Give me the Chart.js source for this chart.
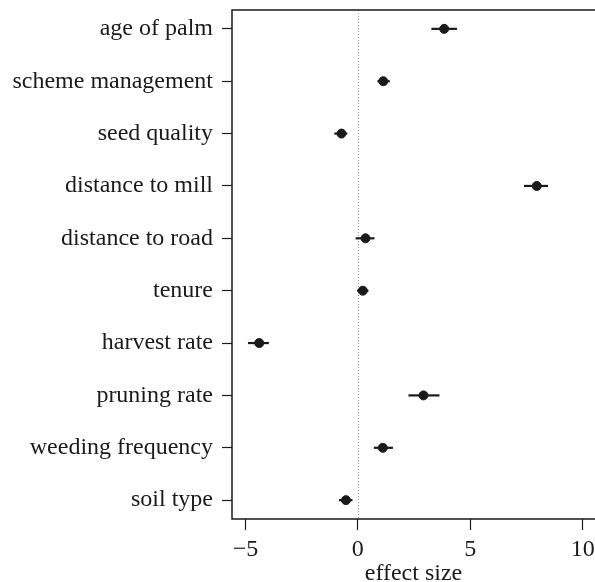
<!DOCTYPE html>
<html>
<head>
<meta charset="utf-8">
<script src="https://cdn.jsdelivr.net/npm/chart.js@4/dist/chart.umd.min.js"></script>
<style>
  html, body { margin: 0; padding: 0; background: #fff; }
  #wrap { width: 595px; height: 582px; }
</style>
</head>
<body>
<div id="wrap"><canvas id="effectChart"></canvas></div>
<script>
// datos del gráfico
const factors = ['age of palm', 'scheme management', 'seed quality', 'distance to mill',
  'distance to road', 'tenure', 'harvest rate', 'pruning rate', 'weeding frequency', 'soil type'];
const estimates = [3.84, 1.13, -0.73, 7.96, 0.34, 0.22, -4.39, 2.92, 1.11, -0.53];
const lower = [3.27, 0.87, -1.05, 7.39, -0.10, -0.04, -4.89, 2.25, 0.71, -0.84];
const upper = [4.41, 1.42, -0.47, 8.46, 0.74, 0.47, -3.96, 3.63, 1.56, -0.24];
const xTicks = [-5, 0, 5, 10];

const serif = '"Liberation Serif", "DejaVu Serif", serif';
const ink = '#1a1a1a';

/**
 * Dibuja la caja, la línea de cero y las barras de error
 */
const whiskers = {
  id: 'whiskers',
  beforeDatasetsDraw(chart) {
    const { ctx, chartArea: a, scales: { x, y } } = chart;
    ctx.save();
    // línea punteada en cero
    ctx.strokeStyle = '#999';
    ctx.lineWidth = 1;
    ctx.setLineDash([1, 2]);
    const x0 = Math.round(x.getPixelForValue(0)) + 0.5;
    ctx.beginPath();
    ctx.moveTo(x0, a.top);
    ctx.lineTo(x0, a.bottom);
    ctx.stroke();
    ctx.setLineDash([]);
    // intervalos
    ctx.strokeStyle = ink;
    ctx.lineWidth = 2.2;
    factors.forEach((f, i) => {
      const py = y.getPixelForValue(i);
      ctx.beginPath();
      ctx.moveTo(x.getPixelForValue(lower[i]), py);
      ctx.lineTo(x.getPixelForValue(upper[i]), py);
      ctx.stroke();
    });
    // caja
    ctx.lineWidth = 1.5;
    ctx.strokeRect(a.left, a.top, a.right - a.left + 5, a.bottom - a.top);
    ctx.restore();
  }
};

new Chart(document.getElementById('effectChart'), {
  type: 'scatter',
  data: {
    datasets: [{
      data: estimates.map((v, i) => ({ x: v, y: i })),
      backgroundColor: ink,
      borderColor: ink,
      pointRadius: 4.5,
      pointHoverRadius: 4.5
    }]
  },
  options: {
    responsive: true,
    maintainAspectRatio: false,
    animation: false,
    layout: { autoPadding: false, padding: { top: 10, right: 0, bottom: 0, left: 0 } },
    plugins: { legend: { display: false }, tooltip: { enabled: false } },
    scales: {
      x: {
        type: 'linear',
        min: -5.6,
        max: 10.55,
        afterBuildTicks: s => { s.ticks = xTicks.map(v => ({ value: v })); },
        afterFit: s => { s.height = 63; s.paddingLeft = 0; s.paddingRight = 0; },
        grid: { drawOnChartArea: false, tickLength: 11, tickColor: ink, tickWidth: 1.2 },
        border: { display: false },
        ticks: {
          color: ink,
          font: { family: serif, size: 24 },
          padding: 5,
          maxRotation: 0,
          callback: v => String(v).replace('-', '\u2212')
        },
        title: {
          display: true,
          text: 'effect size',
          color: ink,
          font: { family: serif, size: 24 },
          padding: { top: 0, bottom: -6.5 }
        }
      },
      y: {
        type: 'linear',
        reverse: true,
        min: -0.36,
        max: 9.36,
        afterBuildTicks: s => { s.ticks = factors.map((f, i) => ({ value: i })); },
        afterFit: s => { s.width = 232; s.paddingTop = 0; s.paddingBottom = 0; },
        grid: { drawOnChartArea: false, tickLength: 10, tickColor: ink, tickWidth: 1.2 },
        border: { display: false },
        ticks: {
          color: ink,
          font: { family: serif, size: 24 },
          padding: 9,
          callback: v => factors[v]
        }
      }
    }
  },
  plugins: [whiskers]
});
</script>
</body>
</html>
